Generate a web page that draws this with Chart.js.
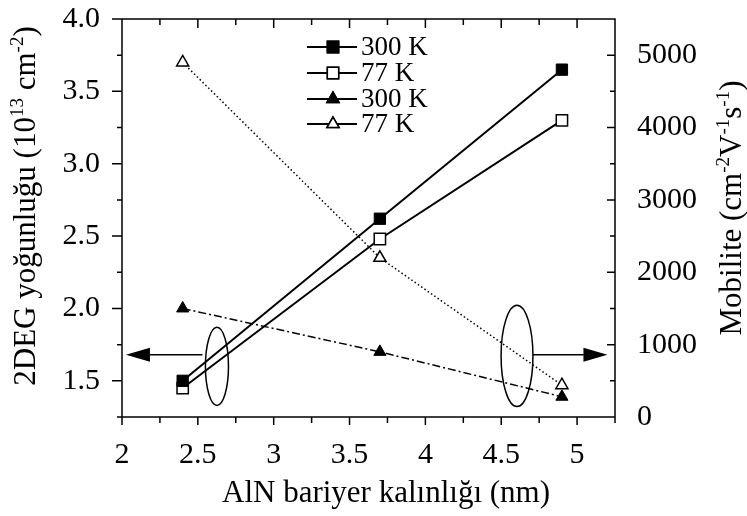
<!DOCTYPE html>
<html><head><meta charset="utf-8">
<script src="https://cdn.jsdelivr.net/npm/chart.js@4.4.1/dist/chart.umd.min.js"></script>
<style>html,body{margin:0;padding:0;background:#fff;}#wrap{width:747px;height:516px;}</style>
</head><body><div id="wrap"><canvas id="c" width="747" height="516"></canvas></div>
<script>
// ---- data ----
const thickness = [2.4, 3.7, 4.9];
const density300K = [1.50, 2.62, 3.65];
const density77K = [1.45, 2.48, 3.30];
const mobility300K = [1500, 900, 280];
const mobility77K = [4900, 2200, 440];
const seriesLabels = ['300 K', '77 K', '300 K', '77 K'];
const xTicks = [2, 2.5, 3, 3.5, 4, 4.5, 5];
const xMinorTicks = [2.25, 2.75, 3.25, 3.75, 4.25, 4.75, 5.25];
const yLeftTicks = [1.5, 2.0, 2.5, 3.0, 3.5, 4.0];
const yLeftMinorTicks = [1.25, 1.75, 2.25, 2.75, 3.25, 3.75];
const yRightTicks = [0, 1000, 2000, 3000, 4000, 5000];
const yRightMinorTicks = [500, 1500, 2500, 3500, 4500, 5500];
const xTitle = [{t: 'AlN bariyer kalınlığı (nm)'}];
const yLeftTitle = [{t: '2DEG yoğunluğu (10'}, {t: '13', sup: true}, {t: ' cm'}, {t: '-2', sup: true}, {t: ')'}];
const yRightTitle = [{t: 'Mobilite (cm'}, {t: '-2', sup: true}, {t: 'V'}, {t: '-1', sup: true}, {t: 's'}, {t: '-1', sup: true}, {t: ')'}];
// annotation marks in data units (x, left axis)
const ellipses = [{cx: 2.626, cy: 1.60, rx: 0.076, ry: 0.27}, {cx: 4.604, cy: 1.672, rx: 0.105, ry: 0.35}];
const arrows = [{x1: 2.53, x2: 2.026, y: 1.68}, {x1: 4.708, x2: 5.20, y: 1.68}];

const SERIF = '"Liberation Serif", "Times New Roman", serif';
const pts = (ys) => thickness.map((x, i) => ({x, y: ys[i]}));

function richWidth(ctx, segs, fs) {
  let w = 0;
  segs.forEach(s => { ctx.font = (s.sup ? Math.round(fs * 0.6) : fs) + 'px ' + SERIF; w += ctx.measureText(s.t).width; });
  return w;
}
function drawRich(ctx, segs, fs, x0) {
  let x = x0;
  segs.forEach(s => {
    ctx.font = (s.sup ? Math.round(fs * 0.6) : fs) + 'px ' + SERIF;
    ctx.fillText(s.t, x, s.sup ? -fs * 0.4 : 0);
    x += ctx.measureText(s.t).width;
  });
}

const decor = {
  id: 'decor',
  afterDraw(chart) {
    const {ctx, chartArea: a, scales} = chart;
    const x = scales.x, yL = scales.yL, yR = scales.yR;
    ctx.save();
    ctx.strokeStyle = '#000'; ctx.fillStyle = '#000';
    ctx.lineWidth = 1.5; ctx.setLineDash([]);
    ctx.beginPath();
    ctx.rect(a.left, a.top, a.right - a.left, a.bottom - a.top);
    const L = (x1, y1, x2, y2) => { ctx.moveTo(x1, y1); ctx.lineTo(x2, y2); };
    yLeftTicks.forEach(v => { const p = yL.getPixelForValue(v); L(a.left - 10, p, a.left, p); });
    yLeftMinorTicks.forEach(v => { const p = yL.getPixelForValue(v); L(a.left - 5, p, a.left, p); });
    xTicks.forEach(v => { const p = x.getPixelForValue(v); L(p, a.bottom, p, a.bottom + 8); L(p, a.top, p, a.top + 9); });
    xMinorTicks.forEach(v => { const p = x.getPixelForValue(v); L(p, a.bottom, p, a.bottom + 6); L(p, a.top, p, a.top + 6); });
    yRightTicks.forEach(v => { const p = yR.getPixelForValue(v); L(a.right - 8, p, a.right, p); });
    yRightMinorTicks.forEach(v => { const p = yR.getPixelForValue(v); L(a.right - 5, p, a.right, p); });
    ctx.stroke();

    // ellipses and arrows
    ctx.lineWidth = 1.5;
    ellipses.forEach(e => {
      const cx = x.getPixelForValue(e.cx), cy = yL.getPixelForValue(e.cy);
      const rx = Math.abs(x.getPixelForValue(e.cx + e.rx) - cx), ry = Math.abs(yL.getPixelForValue(e.cy + e.ry) - cy);
      ctx.beginPath(); ctx.ellipse(cx, cy, rx, ry, 0, 0, Math.PI * 2); ctx.stroke();
    });
    arrows.forEach(ar => {
      const p1 = x.getPixelForValue(ar.x1), p2 = x.getPixelForValue(ar.x2), py = yL.getPixelForValue(ar.y);
      const dir = Math.sign(p2 - p1);
      ctx.beginPath(); ctx.moveTo(p1, py); ctx.lineTo(p2 - dir * 20, py); ctx.stroke();
      ctx.beginPath(); ctx.moveTo(p2, py); ctx.lineTo(p2 - dir * 24, py - 7); ctx.lineTo(p2 - dir * 24, py + 7); ctx.closePath(); ctx.fill();
    });

    // legend
    const rows = [47, 73, 99, 124];
    chart.data.datasets.forEach((d, i) => {
      const y = rows[i];
      ctx.setLineDash([]); ctx.lineWidth = 2; ctx.strokeStyle = '#000';
      ctx.beginPath(); ctx.moveTo(307, y); ctx.lineTo(357, y); ctx.stroke();
      ctx.lineWidth = 1.5;
      Chart.helpers.drawPoint(ctx, {pointStyle: d.pointStyle, radius: d.pointRadius, borderWidth: 1.5, rotation: 0}, 333, y);
      ctx.fillStyle = d.pointBackgroundColor; ctx.fill();
      ctx.stroke();
      ctx.fillStyle = '#000';
      ctx.font = '27px ' + SERIF; ctx.textAlign = 'left'; ctx.textBaseline = 'middle';
      ctx.fillText(d.label, 361, y + 1);
    });

    // axis titles
    const fs = 31;
    ctx.fillStyle = '#000'; ctx.textAlign = 'left'; ctx.textBaseline = 'alphabetic';
    let w = richWidth(ctx, xTitle, fs);
    ctx.save(); ctx.translate(386 - w / 2, 502); drawRich(ctx, xTitle, fs, 0); ctx.restore();
    w = richWidth(ctx, yLeftTitle, fs);
    ctx.save(); ctx.translate(35, 206); ctx.rotate(-Math.PI / 2); drawRich(ctx, yLeftTitle, fs, -w / 2); ctx.restore();
    w = richWidth(ctx, yRightTitle, fs);
    ctx.save(); ctx.translate(741, 208); ctx.rotate(-Math.PI / 2); drawRich(ctx, yRightTitle, fs, -w / 2); ctx.restore();
    ctx.restore();
  }
};

const tickFont = {family: SERIF, size: 30};
const fixY = (w) => (s) => { s.width = w; s.paddingTop = 0; s.paddingBottom = 0; };
new Chart(document.getElementById('c'), {
  type: 'line',
  data: {
    datasets: [
      {label: seriesLabels[0], data: pts(density300K), yAxisID: 'yL', borderColor: '#000', borderWidth: 2,
       pointStyle: 'rect', pointRadius: 8, pointBackgroundColor: '#000', pointBorderColor: '#000', pointBorderWidth: 1},
      {label: seriesLabels[1], data: pts(density77K), yAxisID: 'yL', borderColor: '#000', borderWidth: 2,
       pointStyle: 'rect', pointRadius: 8, pointBackgroundColor: '#fff', pointBorderColor: '#000', pointBorderWidth: 1.5},
      {label: seriesLabels[2], data: pts(mobility300K), yAxisID: 'yR', borderColor: '#000', borderWidth: 1.5, borderDash: [8, 3, 2, 3],
       pointStyle: 'triangle', pointRadius: 7, pointBackgroundColor: '#000', pointBorderColor: '#000', pointBorderWidth: 1},
      {label: seriesLabels[3], data: pts(mobility77K), yAxisID: 'yR', borderColor: '#000', borderWidth: 1.5, borderDash: [1.5, 2.5],
       pointStyle: 'triangle', pointRadius: 7, pointBackgroundColor: '#fff', pointBorderColor: '#000', pointBorderWidth: 1.5}
    ]
  },
  options: {
    responsive: false, animation: false,
    layout: {padding: {top: 19, left: 0, right: 0, bottom: 0}, autoPadding: false},
    plugins: {legend: {display: false}, tooltip: {enabled: false}},
    scales: {
      x: {type: 'linear', min: 2, max: 5.25,
          afterFit(s) { s.height = 99; s.paddingLeft = 0; s.paddingRight = 0; },
          afterBuildTicks(s) { s.ticks = xTicks.map(v => ({value: v})); },
          grid: {display: false, drawTicks: false}, border: {display: false},
          ticks: {font: tickFont, color: '#000', padding: 20, maxRotation: 0, autoSkip: false, callback: v => String(v)}},
      yL: {type: 'linear', position: 'left', min: 1.25, max: 4,
          afterFit: fixY(122),
          afterBuildTicks(s) { s.ticks = yLeftTicks.map(v => ({value: v})); },
          grid: {display: false, drawTicks: false}, border: {display: false},
          ticks: {font: tickFont, color: '#000', padding: 22, autoSkip: false, callback: v => Number(v).toFixed(1)}},
      yR: {type: 'linear', position: 'right', min: 0, max: 5500,
          afterFit: fixY(132),
          afterBuildTicks(s) { s.ticks = yRightTicks.map(v => ({value: v})); },
          grid: {display: false, drawTicks: false}, border: {display: false},
          ticks: {font: tickFont, color: '#000', padding: 22, autoSkip: false, callback: v => String(v)}}
    }
  },
  plugins: [decor]
});
</script></body></html>
